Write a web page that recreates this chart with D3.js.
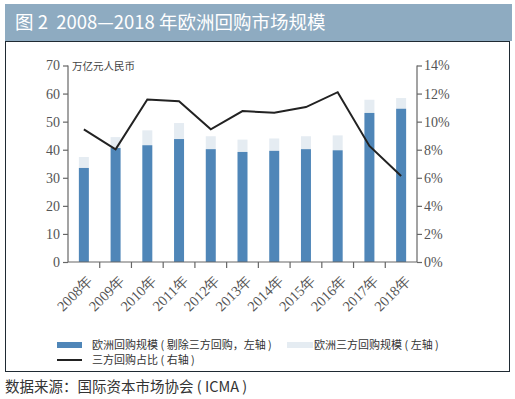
<!DOCTYPE html>
<html>
<head>
<meta charset="utf-8">
<script src="https://cdn.jsdelivr.net/npm/d3@7"></script>
<style>
  body { margin: 0; background: #fff; }
  svg { display: block; }
</style>
</head>
<body>
<div id="chart"></div>
<script>
// data
var years = ["2008年","2009年","2010年","2011年","2012年","2013年","2014年","2015年","2016年","2017年","2018年"];
var repoExTri = [33.5, 40.6, 41.6, 43.8, 40.2, 39.2, 39.6, 40.2, 39.8, 53.1, 54.6];   // 剔除三方回购
var repoTri   = [3.9, 3.9, 5.3, 5.7, 4.6, 4.4, 4.4, 4.6, 5.3, 4.7, 3.8];            // 三方回购
var triShare  = [9.45, 8.03, 11.58, 11.46, 9.45, 10.75, 10.64, 11.04, 12.1, 8.27, 6.13]; // %
var leftTicks = [0, 10, 20, 30, 40, 50, 60, 70];
var rightTicks = [0, 2, 4, 6, 8, 10, 12, 14];

var W = 515, H = 399;
var cjk = "'Noto Sans CJK SC', sans-serif";
var serif = "'Liberation Serif', 'DejaVu Serif', serif";

var svg = d3.select("#chart").append("svg")
	.attr("width", W)
	.attr("height", H);

// title bar
svg.append("rect")
	.attr("x", 5).attr("y", 4)
	.attr("width", 507).attr("height", 37)
	.attr("fill", "#8eabc1");
svg.append("text")
	.attr("x", 15).attr("y", 29)
	.attr("fill", "#fff")
	.style("font-family", cjk)
	.style("font-size", "18.5px")
	.style("white-space", "pre")
	.text("图 2  2008—2018 年欧洲回购市场规模");

// frame
svg.append("rect")
	.attr("x", 5.5).attr("y", 41.5)
	.attr("width", 504).attr("height", 330)
	.attr("fill", "none")
	.attr("stroke", "#1f2a33")
	.attr("stroke-width", 1);

var plotLeft = 68, plotRight = 417, plotTop = 65.5, plotBottom = 262;

var x = d3.scaleBand().domain(years).range([plotLeft, plotRight]).paddingInner(0).paddingOuter(0);
var yL = d3.scaleLinear().domain([0, 70]).range([plotBottom, plotTop]);
var yR = d3.scaleLinear().domain([0, 14]).range([plotBottom, plotTop]);
var barW = 10;

// bars
var g = svg.append("g");
g.selectAll(".tri").data(years).enter().append("rect")
	.attr("class", "tri")
	.attr("x", function(d) { return x(d) + x.bandwidth() / 2 - barW / 2; })
	.attr("y", function(d, i) { return yL(repoExTri[i] + repoTri[i]); })
	.attr("width", barW)
	.attr("height", function(d, i) { return yL(repoExTri[i]) - yL(repoExTri[i] + repoTri[i]); })
	.attr("fill", "#e5ecf2");
g.selectAll(".ex").data(years).enter().append("rect")
	.attr("class", "ex")
	.attr("x", function(d) { return x(d) + x.bandwidth() / 2 - barW / 2; })
	.attr("y", function(d, i) { return yL(repoExTri[i]); })
	.attr("width", barW)
	.attr("height", function(d, i) { return plotBottom - yL(repoExTri[i]); })
	.attr("fill", "#4f86b8");

// axes
function styleAxis(sel) {
	sel.select(".domain").remove();
	sel.selectAll("line").attr("stroke", "#666").attr("stroke-width", 1.2);
	sel.selectAll("text")
		.attr("fill", "#555")
		.attr("font-family", serif)
		.style("font-family", serif)
		.style("font-size", "14px");
}

var axL = svg.append("g")
	.attr("transform", "translate(" + plotLeft + ",0)")
	.call(d3.axisLeft(yL).tickValues(leftTicks).tickSize(5).tickPadding(3))
	.call(styleAxis);
axL.append("line").attr("y1", plotTop).attr("y2", plotBottom).attr("stroke", "#666").attr("stroke-width", 1.2);

var axR = svg.append("g")
	.attr("transform", "translate(" + plotRight + ",0)")
	.call(d3.axisRight(yR).tickValues(rightTicks).tickSize(5).tickPadding(2)
		.tickFormat(function(d) { return d + "%"; }))
	.call(styleAxis);
axR.append("line").attr("y1", plotTop).attr("y2", plotBottom).attr("stroke", "#666").attr("stroke-width", 1.2);

// x axis: ticks at band boundaries
var xAxis = svg.append("g")
	.attr("transform", "translate(0," + plotBottom + ")");
xAxis.append("line")
	.attr("x1", plotLeft).attr("x2", plotRight)
	.attr("stroke", "#666").attr("stroke-width", 1.2);
xAxis.selectAll(".tk").data(years.slice(1)).enter().append("line")
	.attr("x1", function(d) { return x(d); })
	.attr("x2", function(d) { return x(d); })
	.attr("y1", 0).attr("y2", 6)
	.attr("stroke", "#666").attr("stroke-width", 1.2);
xAxis.selectAll("text").data(years).enter().append("text")
	.attr("transform", function(d) {
		return "translate(" + (x(d) + x.bandwidth() / 2 + 3) + ",12) rotate(-45)";
	})
	.attr("text-anchor", "end")
	.attr("dy", "0.7em")
	.attr("fill", "#555")
	.style("font-family", serif)
	.style("font-size", "14.5px")
	.text(function(d) { return d; });

// unit label
svg.append("text")
	.attr("x", 72).attr("y", 70)
	.attr("fill", "#444")
	.style("font-family", cjk)
	.style("font-size", "10.5px")
	.text("万亿元人民币");

// line
var line = d3.line()
	.x(function(d, i) { return x(years[i]) + x.bandwidth() / 2; })
	.y(function(d) { return yR(d); });
svg.append("path")
	.datum(triShare)
	.attr("d", line)
	.attr("fill", "none")
	.attr("stroke", "#222")
	.attr("stroke-width", 2);

// legend
var lg = svg.append("g").style("font-family", cjk).style("font-size", "11px").style("white-space", "pre");
lg.append("rect").attr("x", 57).attr("y", 342).attr("width", 25).attr("height", 6).attr("fill", "#4f86b8");
lg.append("text").attr("x", 92).attr("y", 349).attr("fill", "#333").text("欧洲回购规模 ( 剔除三方回购，左轴 )");
lg.append("rect").attr("x", 287).attr("y", 342).attr("width", 26).attr("height", 6).attr("fill", "#e5ecf2");
lg.append("text").attr("x", 314).attr("y", 349).attr("fill", "#333").text("欧洲三方回购规模 ( 左轴 )");
lg.append("line").attr("x1", 57).attr("x2", 82).attr("y1", 360).attr("y2", 360).attr("stroke", "#222").attr("stroke-width", 2);
lg.append("text").attr("x", 92).attr("y", 364).attr("fill", "#333").text("三方回购占比 ( 右轴 )");

// source
svg.append("text")
	.attr("x", 5).attr("y", 392)
	.attr("fill", "#333")
	.style("font-family", cjk)
	.style("font-size", "14.5px")
	.style("white-space", "pre")
	.text("数据来源：国际资本市场协会 ( ICMA )");
</script>
</body>
</html>
